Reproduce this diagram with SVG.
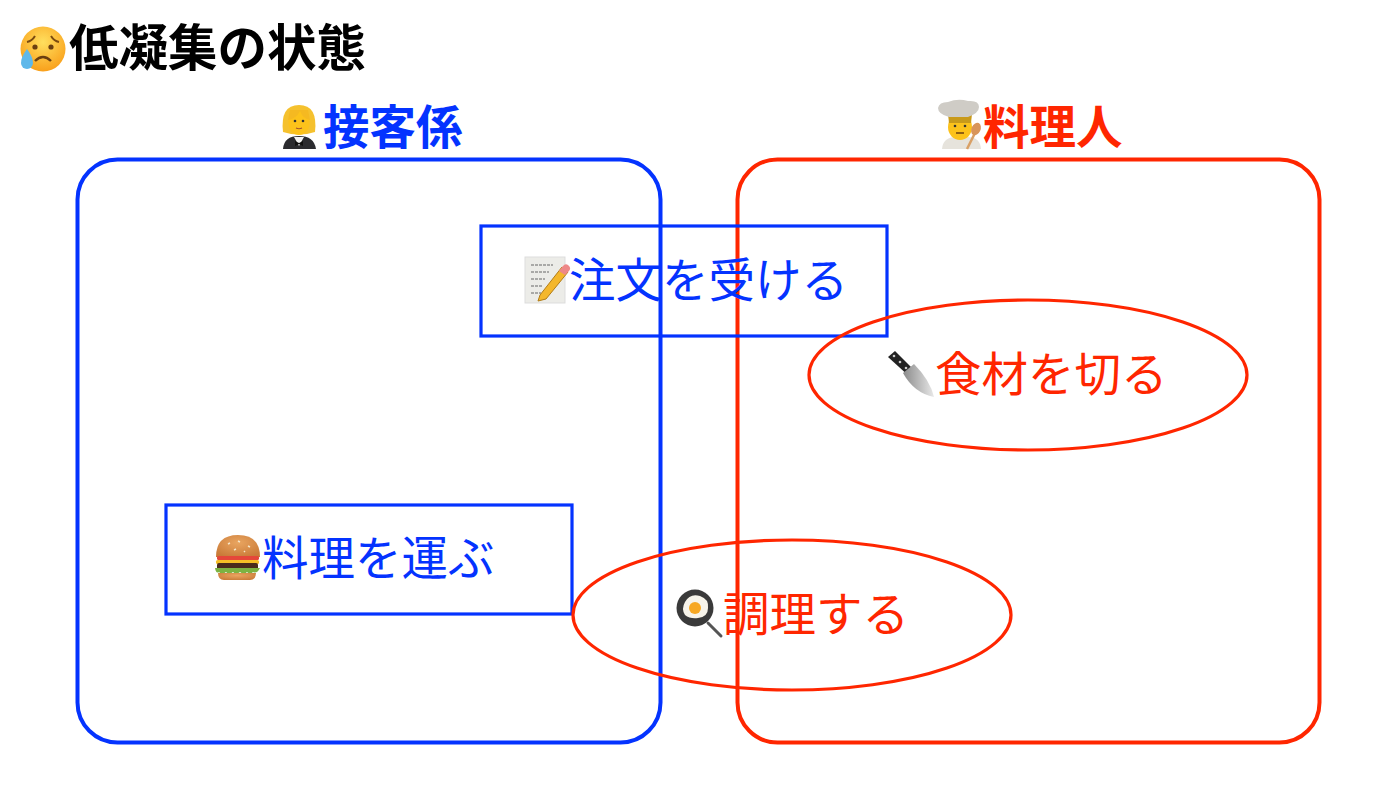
<svg xmlns="http://www.w3.org/2000/svg" width="1400" height="787" viewBox="0 0 1400 787">
<style>
text{font-family:"Noto Sans CJK JP","Liberation Sans",sans-serif}
.t{font-size:49.500px;font-weight:700;fill:#000}
.h{font-size:46.500px;font-weight:700}
.l{font-size:46.500px;font-weight:400}
.b{fill:#0433ff}
.r{fill:#ff2600}
.sb{fill:none;stroke:#0433ff;stroke-width:4}
.sr{fill:none;stroke:#ff2600;stroke-width:4}
.thin{stroke-width:3.200}
</style>
<defs>
<radialGradient id="face" cx="50%" cy="35%" r="65%"><stop offset="0" stop-color="#ffdf5e"/><stop offset="1" stop-color="#f9a01b"/></radialGradient>
<linearGradient id="blade" x1="0" y1="0" x2="1" y2="0"><stop offset="0" stop-color="#8a8a8a"/><stop offset="1" stop-color="#e8e8e8"/></linearGradient>
<radialGradient id="bun" cx="50%" cy="35%" r="70%"><stop offset="0" stop-color="#e9a560"/><stop offset="1" stop-color="#c97a38"/></radialGradient>
</defs>
<rect width="1400" height="787" fill="#fff"/>
<g id="title">
<circle cx="43" cy="49" r="22.500" fill="url(#face)"/>
<path d="M27 42q5-1 8-6M59 42q-5-1-8-6" fill="none" stroke="#7a4a10" stroke-width="2"/>
<circle cx="35" cy="47" r="2.600" fill="#6b3f10"/><circle cx="51" cy="47" r="2.600" fill="#6b3f10"/>
<path d="M35 61q8-8 16 0" fill="none" stroke="#6b3f10" stroke-width="2.400"/>
<path d="M27 49q6 8 6 14a6 6 0 0 1-12 0q0-6 6-14z" fill="#5fb8ea"/>
<text class="t" x="69" y="66">低凝集の状態</text>
</g>
<g id="waiter-group">
<rect class="sb" x="77.500" y="159.500" width="583" height="583" rx="40"/>
<path d="M283 149q1-13 16-13t17 13z" fill="#2b2b2f"/>
<path d="M294 137l5 9 5-9z" fill="#f4f4f4"/>
<path d="M295 141l4 2 4-2v5l-4-2-4 2z" fill="#111"/>
<path d="M283 132q-3-27 16-27t16 27q-16 5-32 0z" fill="#f5c12e"/>
<ellipse cx="299" cy="123" rx="10.500" ry="12" fill="#fcc21b"/>
<path d="M288 120q8-1 12-9 3 8 10 9l-2-10h-18z" fill="#f5b921"/>
<circle cx="295" cy="121" r="1.300" fill="#333"/><circle cx="303" cy="121" r="1.300" fill="#333"/>
<path d="M296 128q3 1.500 6 0" stroke="#a0522d" stroke-width="1.200" fill="none"/>
<text class="h b" x="323" y="144">接客係</text>
</g>
<g id="cook-group">
<rect class="sr" x="737.500" y="159.500" width="582" height="583" rx="40"/>
<path d="M942 149q1-12 14-12h12q12 0 13 12z" fill="#e6e3dc"/>
<ellipse cx="960" cy="127" rx="12" ry="13" fill="#fcc21b"/>
<path d="M949 123h22l1-9h-24z" fill="#c99a1a"/>
<path d="M949 117q-11-3-11-9 1-6 10-6 10-4 20-1 11-1 11 6 0 6-11 10z" fill="#cfccc6"/>
<circle cx="955" cy="126" r="1.300" fill="#333"/><circle cx="965" cy="126" r="1.300" fill="#333"/>
<path d="M956 133h8" stroke="#6b3f10" stroke-width="1.500"/>
<path d="M967 149l8-16" stroke="#d9a066" stroke-width="2.500"/>
<ellipse cx="976" cy="129" rx="4.500" ry="6.500" transform="rotate(25 976 129)" fill="#d9955a"/>
<text class="h r" x="983" y="144">料理人</text>
</g>
<g id="task-order">
<rect class="sb thin" x="481" y="226" width="406" height="110"/>
<rect x="525" y="257" width="40" height="46" fill="#ececE8" stroke="#ddd"/>
<path d="M531 265h22M531 272h18M531 279h14M531 286h12M531 293h10" stroke="#666" stroke-width="1" stroke-dasharray="3 1"/>
<path d="M540 295l22-28 6 5-22 27-8 2z" fill="#f4b72c" stroke="#b27d18" stroke-width="1"/>
<path d="M559 271l4-5a3.500 3.500 0 0 1 6 5l-4 4z" fill="#e88"/>
<text class="l b" x="569" y="297">注文を受ける</text>
</g>
<g id="task-cut">
<ellipse class="sr thin" cx="1028" cy="375" rx="219" ry="75"/>
<path d="M888 357l7-6 21 21-6 5z" fill="#222"/>
<path d="M903 373l11-9q16 16 20 33-20-4-31-24z" fill="url(#blade)"/>
<circle cx="894" cy="356" r="1.300" fill="#ccc"/><circle cx="900" cy="362" r="1.300" fill="#ccc"/><circle cx="906" cy="368" r="1.300" fill="#ccc"/>
<text class="l r" x="935" y="391">食材を切る</text>
</g>
<g id="task-serve">
<rect class="sb thin" x="166" y="505" width="406" height="109"/>
<path d="M216 557q0-22 22-22t22 22z" fill="url(#bun)"/>
<path d="M228 544l2-1M238 541l2 1M248 546l2 1M234 550l2-1M244 552l1-1" stroke="#f6e6c8" stroke-width="1.500"/>
<rect x="217" y="556" width="42" height="4" rx="1.500" fill="#e5473a"/>
<rect x="216" y="560" width="43" height="4" rx="1.500" fill="#f6bf26"/>
<rect x="217" y="563" width="41" height="7" rx="2" fill="#4a2b1c"/>
<path d="M215 568h45q-3 6-7 4-3 3-6 0-3 3-7 0-4 3-7 0-4 3-7 0-4 3-7 0-3 2-4-4z" fill="#7cb342"/>
<path d="M218 573h38q0 7-6 7h-26q-6 0-6-7z" fill="url(#bun)"/>
<text class="l b" x="262" y="575">料理を運ぶ</text>
</g>
<g id="task-cook">
<ellipse class="sr thin" cx="792" cy="615" rx="219" ry="75"/>
<circle cx="695" cy="608" r="18.500" fill="#3a3a3a"/>
<path d="M708 623l13 13" stroke="#555" stroke-width="3" stroke-linecap="round"/>
<path d="M685 602q5-9 15-6 9 3 8 12 0 9-10 10-8 1-13-3-4-6 0-13z" fill="#f7f4ea"/>
<circle cx="695" cy="608" r="6" fill="#f7a823"/>
<text class="l r" x="723" y="631">調理する</text>
</g>
<g id="connectors"></g>
</svg>
